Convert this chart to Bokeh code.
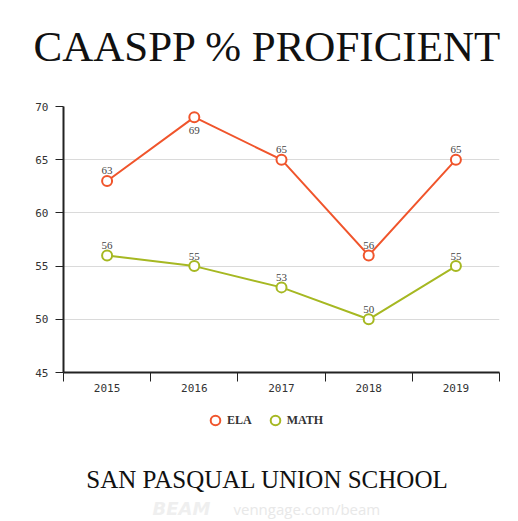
import numpy as np
from bokeh.plotting import figure
from bokeh.layouts import column
from bokeh.models import (Range1d, FixedTicker, LabelSet, Label, ColumnDataSource,
                          Legend, LegendItem, Title)
from bokeh.embed import file_html
from bokeh.resources import INLINE

# ---- data ----
years = ["2015", "2016", "2017", "2018", "2019"]
ela = [63, 69, 65, 56, 65]
math_scores = [56, 55, 53, 50, 55]
y_ticks = [45, 50, 55, 60, 65, 70]
series_names = ["ELA", "MATH"]
title_text = "CAASPP % PROFICIENT"
subtitle_text = "SAN PASQUAL UNION SCHOOL"
wm_logo = "BEAM"
wm_url = "venngage.com/beam"

ELA_COLOR = "#f0552c"
MATH_COLOR = "#a6b822"
COLORS = [ELA_COLOR, MATH_COLOR]
MONO = "DejaVu Sans Mono"
SERIF = "Liberation Serif"

W = 518
MAIN_H = 400
BOTTOM_H = 121
BL, BR = 63, 19

# ---------------- main chart ----------------
p = figure(width=W, height=MAIN_H, output_backend="svg", toolbar_location=None,
           x_range=Range1d(0, len(years)), y_range=Range1d(min(y_ticks), max(y_ticks)),
           min_border_left=BL, min_border_right=BR, min_border_top=106, min_border_bottom=28)
p.outline_line_color = None
p.background_fill_color = "white"
p.border_fill_color = "white"

xs = list(np.arange(len(years)) + 0.5)

# x axis: labels at band centres, tick marks at band boundaries
xa = p.xaxis[0]
xa.ticker = FixedTicker(ticks=xs, minor_ticks=list(range(len(years) + 1)))
xa.major_label_overrides = {float(x): y for x, y in zip(xs, years)}
xa.major_tick_out = 0
xa.major_tick_in = 0
xa.minor_tick_out = 9
xa.minor_tick_in = 0
xa.minor_tick_line_color = "#222222"
xa.minor_tick_line_width = 1
xa.axis_line_width = 2
xa.axis_line_color = "#222222"
xa.major_label_standoff = 2
xa.major_label_text_font = MONO
xa.major_label_text_font_size = "11px"
xa.major_label_text_color = "#333333"

ya = p.yaxis[0]
ya.ticker = FixedTicker(ticks=y_ticks)
ya.major_tick_out = 8
ya.major_tick_in = 0
ya.major_tick_line_color = "#222222"
ya.minor_tick_line_color = None
ya.axis_line_width = 2
ya.axis_line_color = "#222222"
ya.major_label_standoff = 7
ya.major_label_text_font = MONO
ya.major_label_text_font_size = "11px"
ya.major_label_text_color = "#333333"

p.xgrid.visible = False
p.ygrid.ticker = FixedTicker(ticks=y_ticks[1:])
p.ygrid.grid_line_color = "#dadada"
p.ygrid.grid_line_width = 1

top = p.y_range.end
for name, vals, col in zip(series_names, [ela, math_scores], COLORS):
    dy = [-13 if v > top - 2 else 10 for v in vals]
    src = ColumnDataSource(dict(x=xs, y=vals, t=[str(v) for v in vals], dy=dy))
    p.line("x", "y", source=src, line_color=col, line_width=2)
    p.scatter("x", "y", source=src, size=10, fill_color="white",
              line_color=col, line_width=2)
    p.add_layout(LabelSet(x="x", y="y", text="t", y_offset="dy", source=src,
                          text_align="center", text_baseline="middle",
                          text_font=MONO, text_font_size="11px",
                          text_color="#444444"))

# spacer between frame and title (panels stack outward from the frame)
p.add_layout(Title(text=" ", standoff=24, text_font_size="10px",
                   text_color="white"), "above")
p.add_layout(Title(text=title_text, align="left", offset=-30, standoff=0,
                   text_font=SERIF, text_font_size="43px", text_font_style="normal",
                   text_color="#111111"), "above")

# ---------------- legend + footer ----------------
b = figure(width=W, height=BOTTOM_H, output_backend="svg", toolbar_location=None,
           x_axis_type=None, y_axis_type=None,
           x_range=Range1d(0, 1), y_range=Range1d(0, 1),
           min_border_left=BL, min_border_right=BR, min_border_top=0, min_border_bottom=0)
b.grid.visible = False
b.outline_line_color = None
b.background_fill_color = "white"
b.border_fill_color = "white"

items = []
for name, vals, col in zip(series_names, [ela, math_scores], COLORS):
    # same series, outside this panel's visible range: only its legend swatch shows
    r = b.scatter(x=xs, y=vals, size=10, fill_color="white", line_color=col, line_width=2)
    items.append(LegendItem(label=name, renderers=[r]))
b.add_layout(Legend(items=items, location=(203 - BL, 89), orientation="horizontal",
                    glyph_width=24, glyph_height=24, label_standoff=0, spacing=11,
                    padding=0, margin=0, border_line_color=None,
                    background_fill_alpha=0,
                    label_text_font=SERIF, label_text_font_size="12px",
                    label_text_font_style="bold", label_text_color="#333333"))

b.add_layout(Label(x=267 - BL, y=42, x_units="screen", y_units="screen", text=subtitle_text,
                   text_align="center", text_baseline="alphabetic",
                   text_font=SERIF, text_font_size="25px", text_color="#111111"))
b.add_layout(Label(x=152 - BL, y=13, x_units="screen", y_units="screen", text=wm_logo,
                   text_align="left", text_baseline="middle",
                   text_font="DejaVu Sans", text_font_style="bold italic",
                   text_font_size="18px", text_color="#efefef"))
b.add_layout(Label(x=233 - BL, y=13, x_units="screen", y_units="screen", text=wm_url,
                   text_align="left", text_baseline="middle",
                   text_font="Open Sans", text_font_size="15px", text_color="#e8e8e8"))

open("out.html", "w").write(file_html(column(p, b, spacing=0), INLINE))
